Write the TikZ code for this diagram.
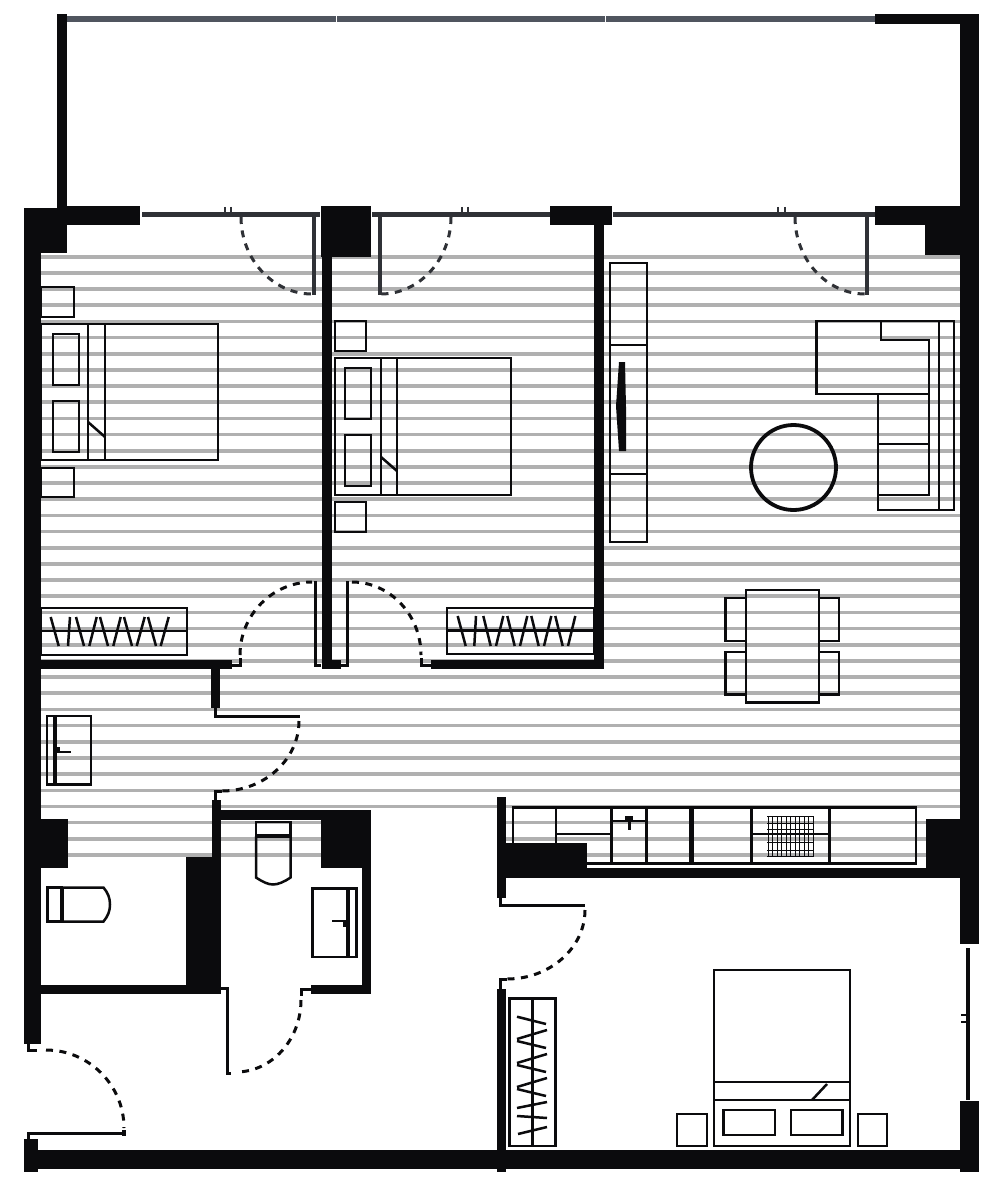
\documentclass[tikz,border=0pt]{standalone}
\usetikzlibrary{calc}
\definecolor{wallblack}{HTML}{0B0B0D}
\definecolor{glazing}{HTML}{2F3136}
\definecolor{railing}{HTML}{50555F}
\definecolor{floorline}{HTML}{B0B0B0}
\tikzset{
  wall/.style={fill=wallblack},
  furn/.style={draw=wallblack, line width=2.5pt},
  leaf/.style={draw=wallblack, line width=3pt},
  slider/.style={draw=glazing, line width=5pt},
  slideleaf/.style={draw=glazing, line width=4pt},
  swing/.style={draw=wallblack, line width=3pt, dash pattern=on 7pt off 6.5pt},
}
\newcommand{\doorswing}[4][wallblack]{%
  \draw[swing, draw=#1] (#2) .. controls ($(#2)!0.55!(#4)$) and ($(#3)!0.55!(#4)$) .. (#3);
}
\begin{document}
\begin{tikzpicture}[x=1pt, y=-1pt]
            \useasboundingbox[fill=white] (0, 0) rectangle (1000, 1190);

            \foreach \k in {0,...,34} {
              \draw[floorline, line width=3.6pt] (41, 256.7+16.17*\k) -- (960, 256.7+16.17*\k);
            }
            \foreach \k in {35,36,37} {
              \draw[floorline, line width=3.6pt] (41, 256.7+16.17*\k) -- (370, 256.7+16.17*\k);
              \draw[floorline, line width=3.6pt] (497, 256.7+16.17*\k) -- (960, 256.7+16.17*\k);
            }

            \fill[railing] (67, 16.5) rectangle (336, 22);
            \fill[railing] (337, 16.5) rectangle (605, 22);
            \fill[railing] (606, 16.5) rectangle (875, 22);

            \fill[wall] (57, 14) rectangle (67, 210);
            \fill[wall] (875, 14) rectangle (979, 24);
            \fill[wall] (960, 14) rectangle (979, 944);
            \fill[wall] (960, 1101) rectangle (979, 1172);
            \fill[wall] (38, 1149.5) rectangle (979, 1168.5);
            \fill[wall] (24, 1139) rectangle (38, 1172);

            \fill[wall] (24, 208) rectangle (41, 1044);
            \fill[wall] (24, 208) rectangle (67, 253);
            \fill[wall] (24, 208) rectangle (140, 225);
            \fill[wall] (57, 206) rectangle (140, 225);
            \fill[wall] (321, 206.5) rectangle (371, 257);
            \fill[wall] (321.5, 206.5) rectangle (331.5, 669);
            \fill[wall] (321.5, 660) rectangle (341, 669);
            \fill[wall] (550, 206.5) rectangle (612, 225);
            \fill[wall] (594, 206.5) rectangle (604, 669);
            \fill[wall] (431, 660) rectangle (604, 669);
            \fill[wall] (875, 206.5) rectangle (960, 225);
            \fill[wall] (925, 206.5) rectangle (960, 255);

            \fill[wall] (41, 660) rectangle (232, 669);
            \fill[wall] (211, 669) rectangle (220, 708);
            \fill[wall] (41, 819) rectangle (68, 868);
            \fill[wall] (212, 800) rectangle (221, 994);
            \fill[wall] (186, 857) rectangle (221, 994);
            \fill[wall] (41, 985) rectangle (221, 994);
            \fill[wall] (221, 810) rectangle (370.5, 820);
            \fill[wall] (321, 810) rectangle (370.5, 868);
            \fill[wall] (361.5, 810) rectangle (370.5, 994);
            \fill[wall] (311, 985) rectangle (370.5, 994);

            \fill[wall] (497, 797) rectangle (506, 898);
            \fill[wall] (497, 843) rectangle (587, 877.5);
            \fill[wall] (587, 868) rectangle (960, 877.5);
            \fill[wall] (925.5, 819) rectangle (960, 877.5);
            \fill[wall] (497, 989) rectangle (506, 1172);

            % sliding doors
            \draw[slider] (142, 214.5) -- (320, 214.5);
            \draw[slider] (372, 214.5) -- (550, 214.5);
            \draw[slider] (613, 214.5) -- (875, 214.5);
            \draw[draw=wallblack, line width=4.5pt] (968, 948) -- (968, 1100);
            \foreach \t in {225, 231, 462, 468, 778, 785} {
              \draw[glazing, line width=1.8pt] (\t, 207) -- (\t, 213);
            }
            \foreach \t in {1015, 1022} {
              \draw[wallblack, line width=1.8pt] (961, \t) -- (967, \t);
            }
            \draw[slideleaf] (313.5, 216) -- (313.5, 295);
            \draw[slideleaf] (380, 216) -- (380, 295);
            \draw[slideleaf] (866.5, 216) -- (866.5, 295);
            \doorswing[glazing]{241, 217}{312, 294}{241, 294}
            \doorswing[glazing]{451, 217}{381, 294}{451, 294}
            \doorswing[glazing]{795, 217}{865, 294}{795, 294}

            % swing doors
            \draw[leaf] (232, 665) -- (240, 665) -- (240, 658);
            \draw[leaf] (321, 665) -- (315, 665) -- (315, 581);
            \doorswing{240, 655}{312, 582}{240, 582}
            \draw[leaf] (341, 665) -- (347, 665) -- (347, 581);
            \draw[leaf] (431, 665) -- (421.5, 665) -- (421.5, 658);
            \doorswing{352, 582}{421, 655}{421, 582}

            \draw[leaf] (215.5, 708) -- (215.5, 716) -- (300, 716);
            \doorswing{299, 721}{222, 791}{299, 791}
            \draw[leaf] (222, 791) -- (215.5, 791) -- (215.5, 800);

            \draw[leaf] (221, 988.5) -- (227, 988.5) -- (227, 1073) -- (231, 1073);
            \draw[leaf] (311, 989) -- (301.5, 989) -- (301.5, 996);
            \doorswing{301, 1000}{236, 1072}{301, 1072}

            \draw[leaf] (28.5, 1044) -- (28.5, 1050) -- (37, 1050);
            \doorswing{46, 1050}{124, 1128}{124, 1050}
            \draw[leaf] (124, 1133.5) -- (28.5, 1133.5) -- (28.5, 1140);
            \fill[wall] (121.5, 1130) rectangle (126, 1136);

            \draw[leaf] (500.5, 898) -- (500.5, 905) -- (585, 905);
            \doorswing{585, 910}{507, 979}{585, 979}
            \draw[leaf] (507, 979) -- (500.5, 979) -- (500.5, 989);

            % bedroom one
            \draw[furn] (41, 287) rectangle (74, 317);
            \draw[furn] (41, 468) rectangle (74, 497);
            \draw[furn] (41, 324) rectangle (218, 460);
            \draw[furn] (88, 324) -- (88, 460);
            \draw[furn] (105, 324) -- (105, 460);
            \draw[furn] (88, 422) -- (105, 437);
            \draw[furn] (53, 334) rectangle (79, 385);
            \draw[furn] (53, 401) rectangle (79, 452);
            \draw[furn] (41, 608) rectangle (187, 655);
            \draw[furn] (41, 631) -- (187, 631);
            \draw[furn] (50.7, 617) -- (58.7, 646) (70, 617) -- (68, 646)
              (76, 617) -- (84, 646) (96.7, 617) -- (89.3, 646)
              (100, 617) -- (108, 646) (120.7, 617) -- (113.3, 646)
              (124, 617) -- (132, 646) (144.7, 617) -- (136.7, 646)
              (148, 617) -- (156, 646) (168.7, 617) -- (160.7, 646);

            % bedroom two
            \draw[furn] (335, 321) rectangle (366, 351);
            \draw[furn] (335, 502) rectangle (366, 532);
            \draw[furn] (335, 358) rectangle (511, 495);
            \draw[furn] (381, 358) -- (381, 495);
            \draw[furn] (397, 358) -- (397, 495);
            \draw[furn] (381, 457) -- (397, 471);
            \draw[furn] (345, 368) rectangle (371, 419);
            \draw[furn] (345, 435) rectangle (371, 486);
            \draw[furn] (447, 608) rectangle (594, 654);
            \draw[furn] (447, 630.5) -- (594, 630.5);
            \draw[furn] (457.7, 616) -- (465.7, 646) (476, 616) -- (474.3, 646)
              (483.3, 616) -- (490.7, 646) (503.3, 616) -- (496, 646)
              (507.3, 616) -- (514.7, 646) (527.3, 616) -- (520, 646)
              (531.3, 616) -- (538.7, 646) (551.3, 616) -- (544, 646)
              (555.3, 616) -- (562.7, 646) (575.3, 616) -- (568, 646);

            % living room
            \draw[furn] (610, 263) rectangle (647, 542);
            \draw[furn] (610, 345) -- (647, 345);
            \draw[furn] (610, 474) -- (647, 474);
            \fill[wall] (619, 362) -- (625, 362) -- (626, 407) -- (626, 451)
              -- (619, 451) -- (616, 406) -- cycle;
            \draw[furn] (816.5, 321) -- (954, 321) -- (954, 510) -- (878, 510)
              -- (878, 394) -- (816.5, 394) -- cycle;
            \draw[furn] (939, 321) -- (939, 510);
            \draw[furn] (881, 321) -- (881, 340) -- (929, 340) -- (929, 495) -- (878, 495);
            \draw[furn] (878, 394) -- (929, 394);
            \draw[furn] (878, 444) -- (929, 444);
            \draw[wallblack, line width=3.8pt] (793.5, 467.5) circle (42.5);

            \draw[furn] (725.5, 598) rectangle (746, 641);
            \draw[furn] (725.5, 652) rectangle (746, 694.5);
            \draw[furn] (819, 598) rectangle (839, 641);
            \draw[furn] (819, 652) rectangle (839, 694.5);
            \draw[furn] (746, 590) rectangle (819, 702.5);

            % baths
            \draw[furn] (47, 716) rectangle (91, 784.5);
            \draw[wallblack, line width=3.5pt] (55, 716) -- (55, 784.5);
            \fill[wall] (55, 747) rectangle (60, 753);
            \draw[wallblack, line width=2.8pt] (55, 752) -- (71, 752);
            \draw[furn] (47.5, 887.5) rectangle (62, 921.5);
            \draw[furn] (62, 887.5) -- (103.5, 887.5) .. controls (108, 893) and (110, 898) .. (110, 904.5)
              .. controls (110, 911) and (108, 916) .. (103.5, 921.5) -- (62, 921.5);
            \draw[wallblack, line width=3.2pt] (62, 887.5) -- (62, 921.5);

            \draw[furn] (256, 822) rectangle (290.5, 836);
            \draw[wallblack, line width=3.2pt] (256, 836) -- (290.5, 836);
            \draw[furn] (256, 836) -- (256, 877.5) .. controls (263, 882) and (268, 884.5) .. (273, 884.5)
              .. controls (278, 884.5) and (284, 882) .. (290.5, 877.5) -- (290.5, 836);
            \draw[furn] (312.5, 888.5) rectangle (356.5, 957);
            \draw[wallblack, line width=3.5pt] (348, 888.5) -- (348, 957);
            \fill[wall] (343, 921) rectangle (348, 927);
            \draw[wallblack, line width=2.8pt] (332, 921) -- (348, 921);

            % kitchen
            \draw[furn] (513, 843) -- (513, 807.5) -- (916, 807.5) -- (916, 863.5) -- (587, 863.5);
            \draw[furn] (556, 807.5) -- (556, 843);
            \draw[furn] (556, 834) -- (611.5, 834);
            \draw[wallblack, line width=3pt] (611.5, 807.5) -- (611.5, 863.5);
            \draw[furn] (646.7, 807.5) -- (646.7, 863.5);
            \draw[furn] (611.5, 821) -- (646.7, 821);
            \fill[wall] (624.5, 816) rectangle (633, 820.5);
            \fill[wall] (627.5, 820) rectangle (631, 830);
            \draw[wallblack, line width=5pt] (691, 807.5) -- (691, 865);
            \draw[wallblack, line width=3pt] (751, 807.5) -- (751, 863.5);
            \draw[wallblack, line width=3pt] (829, 807.5) -- (829, 863.5);
            \draw[wallblack, line width=2.8pt] (751, 834) -- (829, 834);
            \foreach \g in {0,...,10} {
              \draw[wallblack, line width=0.9pt] (768+4.5*\g, 816) -- (768+4.5*\g, 857);
            }
            \foreach \g in {816, 823, 829, 842, 850, 856.5} {
              \draw[wallblack, line width=0.9pt] (767, \g) -- (814, \g);
            }

            % bedroom three
            \draw[furn] (509.5, 998.5) rectangle (555.5, 1146);
            \draw[furn] (532.5, 998.5) -- (532.5, 1146);
            \draw[furn] (517, 1016.7) -- (546, 1024) (547, 1030) -- (517, 1039)
              (517, 1041) -- (546, 1048) (547, 1054) -- (517, 1063)
              (517, 1065) -- (546, 1072) (547, 1078) -- (517, 1087)
              (517, 1089) -- (546, 1096) (547, 1102) -- (517, 1108)
              (517, 1116) -- (547, 1118) (547, 1127) -- (518, 1134);
            \draw[furn] (714, 970) rectangle (850, 1146);
            \draw[furn] (714, 1082) -- (850, 1082);
            \draw[furn] (714, 1100) -- (850, 1100);
            \draw[furn] (812, 1100) -- (827, 1084);
            \draw[furn] (723.5, 1110) rectangle (775, 1135);
            \draw[furn] (791, 1110) rectangle (842.5, 1135);
            \draw[furn] (677, 1114) rectangle (707, 1146);
            \draw[furn] (858, 1114) rectangle (887, 1146);
        \end{tikzpicture}
\end{document}
